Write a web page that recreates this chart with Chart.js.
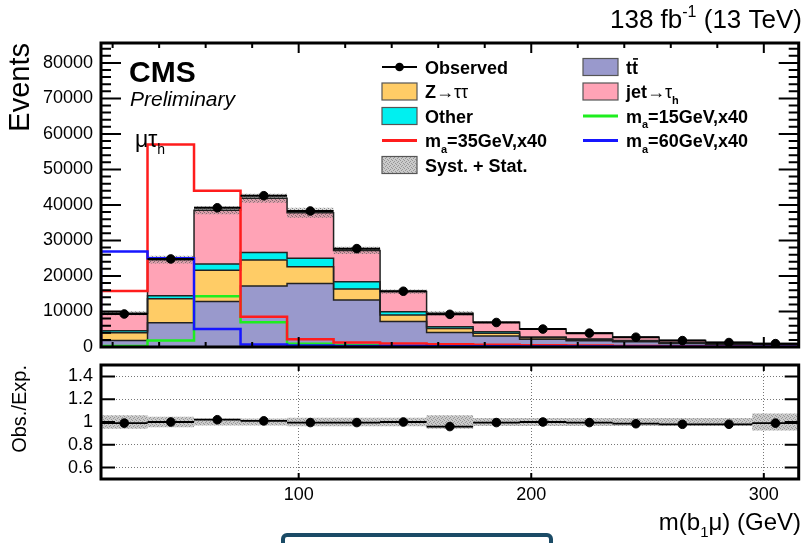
<!DOCTYPE html>
<html>
<head>
<meta charset="utf-8">
<script src="https://cdn.jsdelivr.net/npm/chart.js@4.4.1/dist/chart.umd.min.js"></script>
<style>
  body { margin: 0; background: #fff; width: 804px; height: 543px; overflow: hidden; position: relative; }
  canvas { position: absolute; left: 0; top: 0; }
  #tab { position: absolute; left: 281px; top: 533px; width: 264px; height: 30px; border: 4px solid #1b4b66; border-radius: 6px; background: #fff; }
</style>
</head>
<body>
<canvas id="mainChart" width="804" height="543"></canvas>
<canvas id="ratioChart" width="804" height="543"></canvas>
<div id="tab"></div>
<script>
const FONT = "'Liberation Sans', Arial, Helvetica, sans-serif";

// bins of m(b1 mu), GeV
const binEdges = [15, 35, 55, 75, 95, 115, 135, 155, 175, 195, 215, 235, 255, 275, 295, 315];
const xTicks = [100, 200, 300];
const yTicks = [0, 10000, 20000, 30000, 40000, 50000, 60000, 70000, 80000];
const ratioTicks = [0.6, 0.8, 1, 1.2, 1.4];

// backgrounds, events per bin
const ttbar   = [1800, 6850, 12800, 17200, 17900, 13200, 7200, 4100, 3100, 2150, 1780, 1450, 1000, 750, 600];
const zTauTau = [2200, 6750, 8800, 7300, 4700, 3100, 1800, 1100, 750, 450, 300, 250, 120, 100, 70];
const other   = [600, 800, 1800, 2100, 2400, 2100, 900, 500, 450, 250, 150, 150, 80, 60, 40];
const jetFake = [4900, 10200, 15100, 15300, 12800, 8800, 5700, 3800, 2650, 2200, 1700, 930, 630, 360, 250];
const observed = [9300, 24800, 39200, 42600, 38300, 27700, 15700, 9200, 6900, 5050, 3900, 2750, 1800, 1250, 950];

// signals (x40)
const sig15 = [300, 1800, 14300, 7000, 900, 500, 200, 100, 50, 0, 0, 0, 0, 0, 0];
const sig35 = [15800, 57000, 44000, 8500, 2200, 1300, 1000, 800, 600, 500, 400, 300, 200, 150, 100];
const sig60 = [26900, 25000, 5100, 700, 400, 300, 250, 200, 200, 150, 150, 100, 100, 100, 100];

// ratio panel
const ratio    = [0.99, 1.0, 1.02, 1.01, 0.995, 0.995, 1.0, 0.96, 0.995, 1.0, 0.995, 0.985, 0.98, 0.98, 0.99];
const ratioErr = [0.005, 0.004, 0.003, 0.003, 0.003, 0.003, 0.004, 0.006, 0.007, 0.008, 0.01, 0.012, 0.015, 0.018, 0.03];
const relUnc   = [0.06, 0.045, 0.03, 0.03, 0.037, 0.037, 0.037, 0.06, 0.035, 0.035, 0.035, 0.035, 0.035, 0.035, 0.075];

const colTt = '#9999cc', colZ = '#ffcc66', colOther = '#00f0f0', colJet = '#ffa3b6';
const colS15 = '#1eee1e', colS35 = '#ff1c1c', colS60 = '#1616ff';

function sumOf(arrs) {
	return arrs[0].map((_, i) => arrs.reduce((s, a) => s + a[i], 0));
}
const cumTt = ttbar;
const cumZ = sumOf([ttbar, zTauTau]);
const cumOther = sumOf([ttbar, zTauTau, other]);
const cumJet = sumOf([ttbar, zTauTau, other, jetFake]);
const centers = binEdges.slice(0, -1).map((e, i) => (e + binEdges[i + 1]) / 2);

// histogram outline points
function steps(vals, fromZero) {
	const pts = [];
	if (fromZero) pts.push({x: binEdges[0], y: 0});
	vals.forEach((v, i) => pts.push({x: binEdges[i], y: v}));
	pts.push({x: binEdges[vals.length], y: vals[vals.length - 1]});
	if (fromZero) pts.push({x: binEdges[vals.length], y: 0});
	return pts;
}
// x (and y) error bars
function errBars(vals, errs) {
	const pts = [];
	vals.forEach((v, i) => {
		pts.push({x: binEdges[i], y: v}, {x: binEdges[i + 1], y: v}, {x: binEdges[i + 1], y: null});
		if (errs) pts.push({x: centers[i], y: v - errs[i]}, {x: centers[i], y: v + errs[i]}, {x: centers[i], y: null});
	});
	return pts;
}
function hatch(base, dot) {
	const c = document.createElement('canvas');
	c.width = 4; c.height = 4;
	const g = c.getContext('2d');
	g.fillStyle = base; g.fillRect(0, 0, 4, 4);
	g.fillStyle = dot;
	g.fillRect(0, 0, 1, 1); g.fillRect(2, 1, 1, 1); g.fillRect(1, 2, 1, 1); g.fillRect(3, 3, 1, 1);
	return g.createPattern(c, 'repeat');
}
const bandMain = hatch('rgba(150,150,150,0.35)', 'rgba(70,70,70,0.55)');
const bandRatio = hatch('rgba(200,200,200,0.95)', 'rgba(150,150,150,1)');

// text with sub/superscripts
function rich(ctx, parts, x, y, size, weight, align) {
	const fontOf = p => {
		const s = (p.sub || p.sup) ? Math.round(size * 0.62) : size;
		return (p.it ? 'italic ' : '') + (p.sym ? 'normal' : weight) + ' ' + s + 'px ' + FONT;
	};
	let w = 0;
	parts.forEach(p => { ctx.font = fontOf(p); w += ctx.measureText(p.t).width; });
	let cx = align === 'right' ? x - w : x;
	ctx.textAlign = 'left';
	parts.forEach(p => {
		ctx.font = fontOf(p);
		const dy = p.sub ? size * 0.3 : (p.sup ? -size * 0.42 : 0);
		ctx.fillText(p.t, cx, y + dy);
		const tw = ctx.measureText(p.t).width;
		if (p.bar) {
			ctx.fillRect(cx + 1, y - size * 0.86, tw - 1, 1.6);
		}
		cx += tw;
	});
}

// ROOT-like frame with inward ticks
function innerTicks(cfg) {
	return {
		id: 'innerTicks',
		afterDatasetsDraw(chart) {
			const {ctx, chartArea: a} = chart;
			const sx = chart.scales.x, sy = chart.scales.y;
			ctx.save();
			ctx.strokeStyle = '#000';
			ctx.lineWidth = 2;
			ctx.beginPath();
			const yMark = (v, len) => {
				const p = sy.getPixelForValue(v);
				ctx.moveTo(a.left, p); ctx.lineTo(a.left + len, p);
				ctx.moveTo(a.right, p); ctx.lineTo(a.right - len, p);
			};
			const xMark = (v, len) => {
				const p = sx.getPixelForValue(v);
				ctx.moveTo(p, a.bottom); ctx.lineTo(p, a.bottom - len);
				ctx.moveTo(p, a.top); ctx.lineTo(p, a.top + len);
			};
			cfg.yMajor.forEach(v => yMark(v, cfg.yMajLen));
			if (cfg.yMinStep) {
				for (let v = sy.min; v <= sy.max; v += cfg.yMinStep) {
					if (!cfg.yMajor.includes(v)) yMark(v, cfg.yMinLen);
				}
			}
			if (cfg.xMinStep) {
				for (let v = Math.ceil(sx.min / cfg.xMinStep) * cfg.xMinStep; v < sx.max; v += cfg.xMinStep) {
					xMark(v, xTicks.includes(v) ? cfg.xMajLen : cfg.xMinLen);
				}
			} else {
				xTicks.forEach(v => xMark(v, cfg.xMajLen));
			}
			ctx.stroke();
			ctx.lineWidth = 3;
			ctx.strokeRect(a.left, a.top, a.width, a.height);
			ctx.restore();
		}
	};
}

const legendRows = [67, 91.5, 116, 140.5, 165];
const legendItems = [
	{col: 0, row: 0, kind: 'data', parts: [{t: 'Observed'}]},
	{col: 0, row: 1, kind: 'box', color: colZ, parts: [{t: 'Z'}, {t: '\u2192\u03c4\u03c4', sym: true}]},
	{col: 0, row: 2, kind: 'box', color: colOther, parts: [{t: 'Other'}]},
	{col: 0, row: 3, kind: 'line', color: colS35, parts: [{t: 'm'}, {t: 'a', sub: true}, {t: '=35GeV,x40'}]},
	{col: 0, row: 4, kind: 'box', color: bandRatio, parts: [{t: 'Syst. + Stat.'}]},
	{col: 1, row: 0, kind: 'box', color: colTt, parts: [{t: 't'}, {t: 't', bar: true}]},
	{col: 1, row: 1, kind: 'box', color: colJet, parts: [{t: 'jet'}, {t: '\u2192\u03c4', sym: true}, {t: 'h', sub: true}]},
	{col: 1, row: 2, kind: 'line', color: colS15, parts: [{t: 'm'}, {t: 'a', sub: true}, {t: '=15GeV,x40'}]},
	{col: 1, row: 3, kind: 'line', color: colS60, parts: [{t: 'm'}, {t: 'a', sub: true}, {t: '=60GeV,x40'}]}
];

const mainText = {
	id: 'mainText',
	afterDraw(chart) {
		const ctx = chart.ctx;
		ctx.save();
		ctx.fillStyle = '#000';
		ctx.textBaseline = 'alphabetic';
		ctx.font = 'bold 30px ' + FONT;
		ctx.fillText('CMS', 129, 82);
		ctx.font = 'italic 21px ' + FONT;
		ctx.fillText('Preliminary', 130, 106);
		rich(ctx, [{t: '\u03bc\u03c4'}, {t: 'h', sub: true}], 135, 147, 23, 'normal');
		rich(ctx, [{t: '138 fb'}, {t: '-1', sup: true}, {t: ' (13 TeV)'}], 802, 28, 26, 'normal', 'right');

		legendItems.forEach(it => {
			const bx = it.col === 0 ? 382 : 583;
			const yc = legendRows[it.row];
			if (it.kind === 'box') {
				ctx.fillStyle = it.color;
				ctx.fillRect(bx, yc - 8.5, 35, 17);
				ctx.strokeStyle = '#555';
				ctx.lineWidth = 1.2;
				ctx.strokeRect(bx, yc - 8.5, 35, 17);
			} else if (it.kind === 'line') {
				ctx.strokeStyle = it.color;
				ctx.lineWidth = 3;
				ctx.beginPath(); ctx.moveTo(bx, yc); ctx.lineTo(bx + 35, yc); ctx.stroke();
			} else {
				ctx.strokeStyle = '#000';
				ctx.lineWidth = 2;
				ctx.beginPath(); ctx.moveTo(bx, yc); ctx.lineTo(bx + 35, yc); ctx.stroke();
				ctx.fillStyle = '#000';
				ctx.beginPath(); ctx.arc(bx + 17.5, yc, 4.3, 0, Math.PI * 2); ctx.fill();
			}
			ctx.fillStyle = '#000';
			rich(ctx, it.parts, bx + 43, yc + 6.6, 18, 'bold');
		});
		ctx.restore();
	}
};

const ratioText = {
	id: 'ratioText',
	afterDraw(chart) {
		const ctx = chart.ctx;
		ctx.save();
		ctx.fillStyle = '#000';
		ctx.textBaseline = 'alphabetic';
		rich(ctx, [{t: 'm(b'}, {t: '1', sub: true}, {t: '\u03bc) (GeV)'}], 801, 530, 24, 'normal', 'right');
		ctx.restore();
	}
};

const lineBase = {type: 'line', pointRadius: 0, tension: 0, fill: false};

new Chart(document.querySelector('#mainChart'), {
	type: 'line',
	data: {
		datasets: [
			{...lineBase, label: 'Observed', data: centers.map((c, i) => ({x: c, y: observed[i]})), showLine: false, pointRadius: 4.3, pointBackgroundColor: '#000', pointBorderColor: '#000'},
			{...lineBase, label: 'Observed bins', data: errBars(observed), borderColor: '#000', borderWidth: 2},
			{...lineBase, label: 'm_a=60GeV,x40', data: steps(sig60, true), stepped: true, borderColor: colS60, borderWidth: 2.5},
			{...lineBase, label: 'm_a=35GeV,x40', data: steps(sig35, true), stepped: true, borderColor: colS35, borderWidth: 2.5},
			{...lineBase, label: 'm_a=15GeV,x40', data: steps(sig15, true), stepped: true, borderColor: colS15, borderWidth: 2.5},
			{...lineBase, label: 'Syst. + Stat.', data: steps(cumJet.map((v, i) => v * (1 + relUnc[i]))), stepped: true, borderWidth: 0, borderColor: 'rgba(0,0,0,0)', backgroundColor: bandMain, fill: '+1'},
			{...lineBase, label: 'band low', data: steps(cumJet.map((v, i) => v * (1 - relUnc[i]))), stepped: true, borderWidth: 0, borderColor: 'rgba(0,0,0,0)'},
			{...lineBase, label: 'jet\u2192\u03c4h', data: steps(cumJet), stepped: true, borderColor: '#222', borderWidth: 1.5, backgroundColor: colJet, fill: '+1'},
			{...lineBase, label: 'Other', data: steps(cumOther), stepped: true, borderColor: '#222', borderWidth: 1.5, backgroundColor: colOther, fill: '+1'},
			{...lineBase, label: 'Z\u2192\u03c4\u03c4', data: steps(cumZ), stepped: true, borderColor: '#222', borderWidth: 1.5, backgroundColor: colZ, fill: '+1'},
			{...lineBase, label: 'tt\u0304', data: steps(cumTt), stepped: true, borderColor: '#222', borderWidth: 1.5, backgroundColor: colTt, fill: 'origin'}
		]
	},
	options: {
		responsive: false,
		animation: false,
		events: [],
		layout: {padding: {left: 0, top: 43, right: 4, bottom: 196}},
		plugins: {
			legend: {display: false},
			tooltip: {enabled: false},
			filler: {drawTime: 'beforeDatasetsDraw'}
		},
		scales: {
			x: {type: 'linear', min: 15, max: 315, display: false},
			y: {
				type: 'linear', min: 0, max: 85600,
				afterBuildTicks: s => { s.ticks = yTicks.map(v => ({value: v})); },
				afterFit: s => { s.width = 101; },
				grid: {display: false, drawTicks: false},
				border: {display: false},
				ticks: {color: '#000', padding: 8, font: {family: FONT, size: 18}, callback: v => String(v)},
				title: {display: true, text: 'Events', align: 'end', color: '#000', font: {family: FONT, size: 29}, padding: {top: 4, bottom: 0}}
			}
		}
	},
	plugins: [innerTicks({yMajor: yTicks, yMajLen: 20, yMinStep: 2000, yMinLen: 10, xMinStep: 20, xMajLen: 10, xMinLen: 5}), mainText]
});

new Chart(document.querySelector('#ratioChart'), {
	type: 'line',
	data: {
		datasets: [
			{...lineBase, label: 'Obs./Exp.', data: centers.map((c, i) => ({x: c, y: ratio[i]})), showLine: false, pointRadius: 4.3, pointBackgroundColor: '#000', pointBorderColor: '#000'},
			{...lineBase, label: 'Obs./Exp. errors', data: errBars(ratio, ratioErr), borderColor: '#000', borderWidth: 1.8},
			{...lineBase, label: 'Syst. + Stat.', data: steps(relUnc.map(u => 1 + u)), stepped: true, borderWidth: 0, borderColor: 'rgba(0,0,0,0)', backgroundColor: bandRatio, fill: '+1'},
			{...lineBase, label: 'band low', data: steps(relUnc.map(u => 1 - u)), stepped: true, borderWidth: 0, borderColor: 'rgba(0,0,0,0)'}
		]
	},
	options: {
		responsive: false,
		animation: false,
		events: [],
		layout: {padding: {left: 0, top: 365, right: 4, bottom: 0}},
		plugins: {
			legend: {display: false},
			tooltip: {enabled: false},
			filler: {drawTime: 'beforeDatasetsDraw'}
		},
		scales: {
			x: {
				type: 'linear', min: 15, max: 315,
				afterBuildTicks: s => { s.ticks = xTicks.map(v => ({value: v})); },
				afterFit: s => { s.height = 64; },
				grid: {color: '#777', lineWidth: 1, drawTicks: false},
				border: {display: false, dash: [1, 2]},
				ticks: {color: '#000', padding: 5, maxRotation: 0, autoSkip: false, font: {family: FONT, size: 18}, callback: v => String(v)}
			},
			y: {
				type: 'linear', min: 0.5, max: 1.5,
				afterBuildTicks: s => { s.ticks = ratioTicks.map(v => ({value: v})); },
				afterFit: s => { s.width = 101; },
				grid: {color: '#777', lineWidth: 1, drawTicks: false},
				border: {display: false, dash: [1, 2]},
				ticks: {color: '#000', padding: 8, font: {family: FONT, size: 18}, callback: v => String(v)},
				title: {display: true, text: 'Obs./Exp.', align: 'end', color: '#000', font: {family: FONT, size: 20}, padding: {top: 8, bottom: 0}}
			}
		}
	},
	plugins: [innerTicks({yMajor: ratioTicks, yMajLen: 14, xMajLen: 6}), ratioText]
});
</script>
</body>
</html>
